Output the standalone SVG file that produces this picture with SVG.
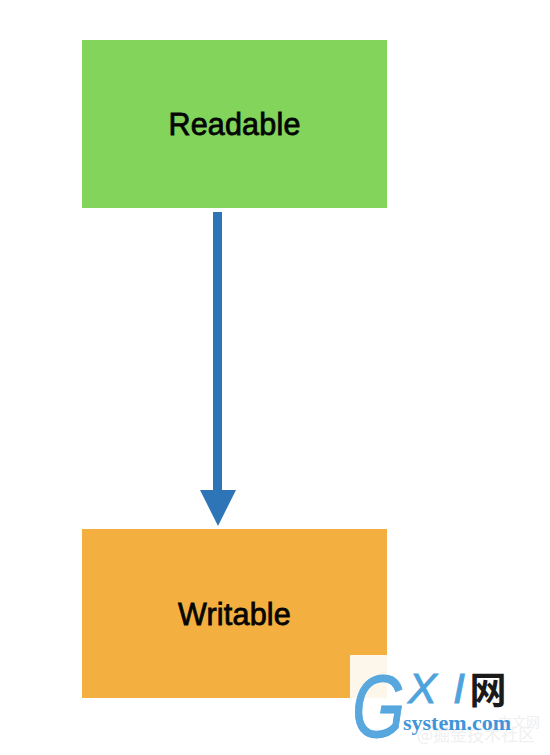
<svg xmlns="http://www.w3.org/2000/svg" width="550" height="755" viewBox="0 0 550 755">
<style>
.label{font-family:"Liberation Sans",Arial,sans-serif;font-size:30.500px;letter-spacing:.2px;fill:#050505;text-anchor:middle;stroke:#050505;stroke-width:.8px}
.wm{font-family:"Liberation Sans",Arial,sans-serif;font-style:italic;fill:#4fa3dd}
.faint{font-family:"Noto Sans CJK SC","Noto Sans",sans-serif;fill:#f0f0f0}
</style>
<rect width="550" height="755" fill="#ffffff"/>
<g id="readable"><rect x="82" y="40" width="305" height="168" fill="#82d45a"/><text class="label" x="234.500" y="135">Readable</text></g>
<g id="writable"><rect x="82" y="529" width="305" height="169" fill="#f3b040"/><text class="label" x="234.500" y="625">Writable</text></g>
<g id="connectors"><rect x="213" y="212" width="9" height="279" fill="#2e75b8"/><polygon points="200,490 236,490 218,526" fill="#2e75b8"/></g>
<g id="watermark">
<rect x="350" y="655" width="37" height="43" fill="#fdf6ea"/>
<text class="faint" x="519" y="727" font-size="14" text-anchor="middle">中文网</text>
<text class="faint" x="476" y="741" font-size="17" text-anchor="middle">@掘金技术社区</text>
<text class="wm" transform="translate(352 737) scale(.74 .97)" font-size="92" fill-opacity=".95" stroke="#4fa3dd" stroke-width="1">G</text>
<text class="wm" x="408" y="703" font-size="43" stroke="#4fa3dd" stroke-width=".9">X</text>
<text class="wm" x="453" y="703" font-size="43" stroke="#4fa3dd" stroke-width=".9">I</text>
<text x="469.500" y="704" font-size="37" font-weight="700" font-family="'Noto Sans CJK SC',sans-serif" fill="#1a1a1a">网</text>
<text x="403" y="730" font-size="22" font-weight="bold" font-family="'Liberation Serif',serif" fill="#3f95d8">system.com</text>
</g>
</svg>
